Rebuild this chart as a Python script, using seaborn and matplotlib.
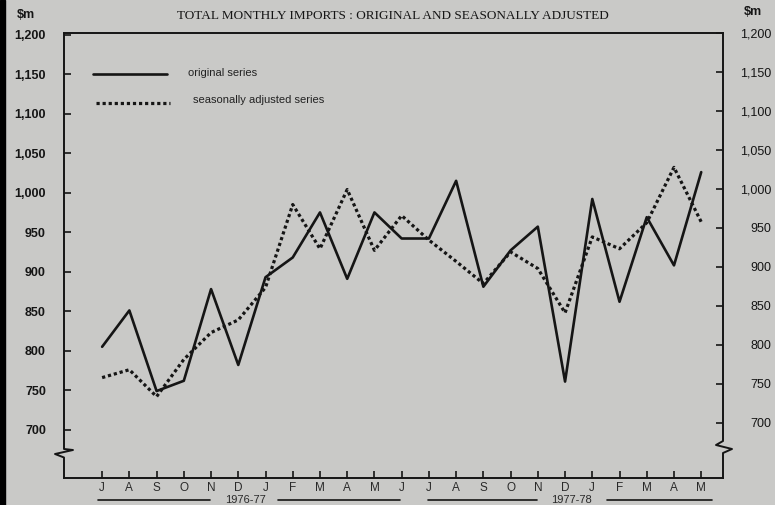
import pandas as pd
import seaborn as sns
import matplotlib.pyplot as plt
from matplotlib.lines import Line2D
from matplotlib.patches import Rectangle

months = ['J', 'A', 'S', 'O', 'N', 'D', 'J', 'F', 'M', 'A', 'M', 'J',
          'J', 'A', 'S', 'O', 'N', 'D', 'J', 'F', 'M', 'A', 'M']
original = [805, 851, 749, 762, 878, 782, 893, 918, 975, 891, 975, 942,
            942, 1015, 881, 927, 957, 761, 992, 862, 969, 908, 1026]
adjusted = [766, 776, 742, 789, 823, 839, 880, 985, 929, 1004, 927, 971,
            940, 913, 885, 925, 904, 848, 944, 929, 962, 1032, 963]
y_ticks = [700, 750, 800, 850, 900, 950, 1000, 1050, 1100, 1150, 1200]
y_labels = ['700', '750', '800', '850', '900', '950', '1,000', '1,050', '1,100', '1,150', '1,200']

BG = '#c9c9c7'
INK = '#151515'

sns.set_theme(style='white')
plt.rcParams['font.family'] = ['Liberation Sans', 'DejaVu Sans']

df = pd.DataFrame({'month': range(len(months)), 'original': original, 'adjusted': adjusted})

W, H = 775, 505
fig = plt.figure(figsize=(W / 100, H / 100), dpi=100, facecolor=BG)
ax = fig.add_axes([64 / W, 27 / H, 659 / W, 445 / H], facecolor=BG)

sns.lineplot(data=df, x='month', y='original', ax=ax, color=INK, linewidth=1.9)
sns.lineplot(data=df, x='month', y='adjusted', ax=ax, color=INK, linewidth=2.3,
             linestyle=(0, (1, 0.9)))

ax.set_xlim(-1.4, 22.8)
ax.set_ylim(639, 1202)
ax.set_xlabel('')
ax.set_ylabel('')
ax.set_xticks(range(len(months)))
ax.set_xticklabels(months, fontsize=8.5, color='#2a2a2a')
ax.set_yticks(y_ticks)
ax.set_yticklabels(y_labels, fontsize=9, fontweight='bold', color=INK)
ax.tick_params(axis='x', direction='in', length=5, width=1.2, color=INK, pad=3, bottom=True)
ax.tick_params(axis='y', direction='in', length=5, width=1.2, color=INK, pad=13, left=True)

# right-hand scale
ax2 = ax.twinx()
ax2.set_ylim(629, 1200)
ax2.set_yticks(y_ticks)
ax2.set_yticklabels(y_labels, fontsize=9, color=INK, ha='right')
ax2.tick_params(axis='y', direction='in', length=5, width=1.2, color=INK, pad=35, right=True)

for a in (ax, ax2):
    for s in a.spines.values():
        s.set_visible(False)
ax.spines['top'].set_visible(True)
ax.spines['bottom'].set_visible(True)
ax.spines['top'].set_linewidth(1.4)
ax.spines['bottom'].set_linewidth(1.4)
ax.spines['top'].set_color(INK)
ax.spines['bottom'].set_color(INK)

# vertical axes with the scale break
def fy(y):
    return (478 - y) / 445

left_x = [0, 0, 9 / 659, -9 / 659, 0, 0]
left_y = [1, fy(449), fy(450), fy(454), fy(457.5), 0]
ax.plot(left_x, left_y, transform=ax.transAxes, color=INK, lw=1.4, clip_on=False)
right_x = [1, 1, 1 - 7 / 659, 1 + 9 / 659, 1, 1]
right_y = [1, fy(441), fy(445), fy(449), fy(453), 0]
ax.plot(right_x, right_y, transform=ax.transAxes, color=INK, lw=1.4, clip_on=False)

# legend drawn by hand
ax.plot([29 / 659, 103 / 659], [fy(74), fy(74)], transform=ax.transAxes,
        color=INK, lw=1.9, clip_on=False)
ax.text(124 / 659, fy(73), 'original series', transform=ax.transAxes,
        fontsize=8, color='#222222', va='center')
ax.plot([32 / 659, 106 / 659], [fy(103), fy(103)], transform=ax.transAxes,
        color=INK, lw=2.3, linestyle=(0, (1, 0.9)), clip_on=False)
ax.text(129 / 659, fy(100), 'seasonally adjusted series', transform=ax.transAxes,
        fontsize=8, color='#222222', va='center')

# title and unit labels
fig.text(393 / W, 1 - 16 / H, 'TOTAL MONTHLY IMPORTS : ORIGINAL AND SEASONALLY ADJUSTED',
         family='Liberation Serif', fontsize=9.5, color=INK, ha='center', va='center')
fig.text(26 / W, 1 - 15 / H, '$m', fontsize=9, fontweight='bold', color=INK,
         ha='center', va='center')
fig.text(753 / W, 1 - 12 / H, '$m', fontsize=9, fontweight='bold', color=INK,
         ha='center', va='center')

# financial year labels under the months
for label, cx, segs in [('1976-77', 245, [(98, 210), (278, 400)]),
                        ('1977-78', 571, [(428, 537), (607, 712)])]:
    fig.text(cx / W, 1 - 500 / H, label, fontsize=8, color='#2a2a2a', ha='center', va='center')
    for x0, x1 in segs:
        fig.add_artist(Line2D([x0 / W, x1 / W], [1 - 500 / H, 1 - 500 / H],
                              transform=fig.transFigure, color=INK, lw=1.2))

fig.patches.append(Rectangle((0, 0), 5 / W, 1, transform=fig.transFigure,
                             color='black', zorder=-1))

fig.savefig('out.png', dpi=100, facecolor=BG)
